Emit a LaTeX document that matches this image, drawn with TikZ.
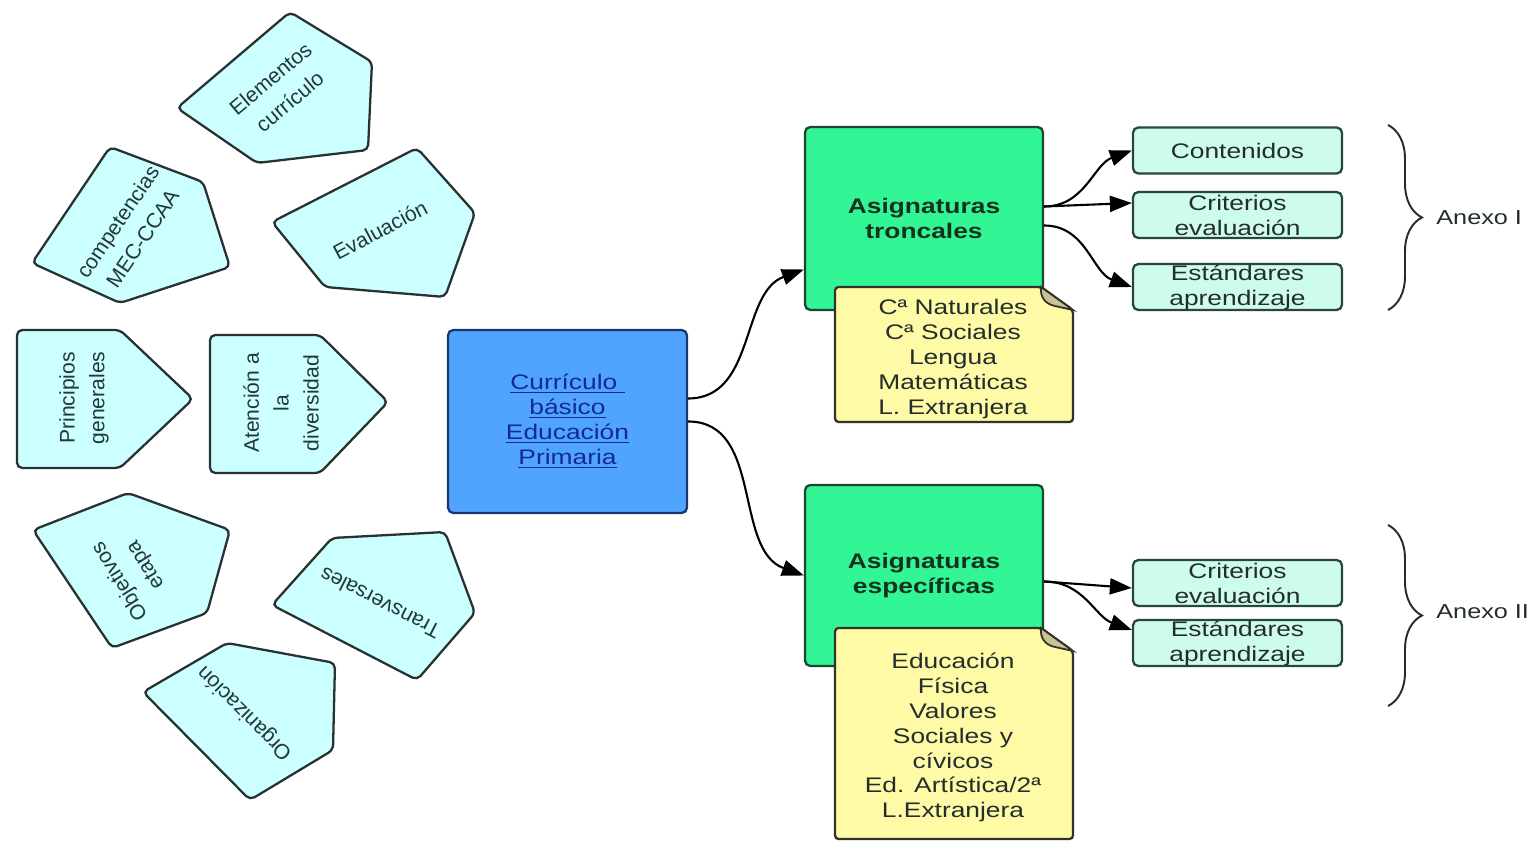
\documentclass[tikz,border=0pt]{standalone}
\usepackage{fontspec}
\setmainfont{Liberation Sans}[FakeStretch=1.25]
\newfontfamily\pentafont{Liberation Sans}
\usetikzlibrary{arrows.meta,calc,decorations.pathreplacing}

\definecolor{pentafill}{RGB}{204,255,255}
\definecolor{pentaline}{RGB}{40,50,50}
\definecolor{pentaink}{RGB}{35,55,55}
\definecolor{bluefill}{RGB}{80,164,255}
\definecolor{blueline}{RGB}{25,55,110}
\definecolor{blueink}{RGB}{20,40,150}
\definecolor{greenfill}{RGB}{50,245,150}
\definecolor{greenline}{RGB}{30,70,45}
\definecolor{greenink}{RGB}{20,50,30}
\definecolor{notefill}{RGB}{255,250,165}
\definecolor{noteline}{RGB}{50,50,40}
\definecolor{foldfill}{RGB}{200,195,150}
\definecolor{mintfill}{RGB}{205,252,235}
\definecolor{mintline}{RGB}{40,70,60}
\definecolor{inkdark}{RGB}{35,45,45}

\tikzstyle{penta}=[draw=pentaline, fill=pentafill, line width=1.3pt, rounded corners=3pt]
\tikzstyle{pentatext}=[align=center, text=pentaink, inner sep=0pt, font=\pentafont\fontsize{12}{17}\selectfont]
\tikzstyle{box}=[draw, rounded corners=3pt, line width=1.3pt, inner sep=0pt, align=center, font=\fontsize{12}{14.2}\selectfont]
\tikzstyle{green}=[box, draw=greenline, fill=greenfill, text=greenink, minimum width=4.76cm, font=\bfseries\fontsize{12}{14.2}\selectfont]
\tikzstyle{mint}=[box, draw=mintline, fill=mintfill, text=inkdark, minimum width=4.18cm, minimum height=0.92cm]
\tikzstyle{note}=[draw=noteline, fill=notefill, line width=1.3pt, rounded corners=2pt]
\tikzstyle{notetext}=[align=center, text=inkdark, inner sep=0pt, font=\fontsize{12}{14.2}\selectfont]
\tikzstyle{link}=[-{Triangle[length=4.4mm,width=3.2mm]}, line width=1.2pt]
\tikzstyle{anexo}=[decorate, decoration={brace, amplitude=0.68cm}, line width=1.1pt, draw=inkdark]
\tikzstyle{anexotext}=[anchor=west, inner sep=0pt, text=inkdark, font=\fontsize{11.5}{14}\selectfont]

\begin{document}
\begin{tikzpicture}[x=0.02cm, y=0.02cm]
\useasboundingbox (0,0) rectangle (1535,842);

% pentagons
\draw[penta] (177,734) -- (290,830) -- (372,780) -- (368,692) -- (257,679) -- cycle;
\node[pentatext, rotate=40] (elem) at (280,752) {Elementos\\currículo};
\draw[penta] (110,695) -- (203,660) -- (230,575) -- (120,539) -- (32,579) -- cycle;
\node[pentatext, rotate=56] (comp) at (130,612) {competencias\\MEC-CCAA};
\draw[penta] (272,620) -- (417,694) -- (475,629) -- (445,545) -- (325,555) -- cycle;
\node[pentatext, rotate=28] (eval) at (380,612) {Evaluación};
\draw[penta] (17,512) -- (120,512) -- (193,443) -- (120,374) -- (17,374) -- cycle;
\node[pentatext, rotate=90] (princ) at (84,444) {Principios\\generales};
\draw[penta] (210,507) -- (320,507) -- (388,440) -- (320,369) -- (210,369) -- cycle;
\node[pentatext, rotate=90] (aten) at (281,439) {Atención a\\la\\diversidad};
\draw[penta] (33,312) -- (128,349) -- (230,312) -- (207,229) -- (112,194) -- cycle;
\node[pentatext, rotate=122] (obj) at (133,269) {Objetivos\\etapa};
\draw[penta] (272,237) -- (332,304) -- (445,310) -- (475,229) -- (417,162) -- cycle;
\node[pentatext, rotate=153] (transv) at (380,239) {Transversales};
\draw[penta] (143,150) -- (227,199) -- (335,179) -- (333,92) -- (250,42) -- cycle;
\node[pentatext, rotate=135] (org) at (245,129) {Organización};

% main box
\node[box, draw=blueline, fill=bluefill, text=blueink, minimum width=4.78cm, minimum height=3.66cm] (cb) at (567.5,420.5)
  {\underline{Currículo\ }\\\underline{básico}\\\underline{Educación}\\\underline{Primaria}};

% subjects
\node[green, minimum height=3.66cm] (tr) at (924,623.5) {Asignaturas\\troncales};
\node[green, minimum height=3.62cm] (esp) at (924,266.5) {Asignaturas\\específicas};

% notes
\draw[note] (835,420) -- (835,555) -- (1041,555) -- (1073,532) -- (1073,420) -- cycle;
\fill[foldfill, draw=noteline, line width=1pt] (1041,555) .. controls (1040,545) and (1045,538) .. (1055,536) -- (1073,532) -- cycle;
\node[notetext] (nota1) at (953,483) {Cª Naturales\\Cª Sociales\\Lengua\\Matemáticas\\L. Extranjera};
\draw[note] (835,3) -- (835,214) -- (1041,214) -- (1073,191) -- (1073,3) -- cycle;
\fill[foldfill, draw=noteline, line width=1pt] (1041,214) .. controls (1040,204) and (1045,197) .. (1055,195) -- (1073,191) -- cycle;
\node[notetext] (nota2) at (953,104.5) {Educación\\Física\\Valores\\Sociales y\\cívicos\\Ed. Artística/2ª\\L.Extranjera};

% elements
\node[mint] (cont) at (1237.5,691.5) {Contenidos};
\node[mint] (crit1) at (1237.5,627) {Criterios\\evaluación};
\node[mint] (est1) at (1237.5,555) {Estándares\\aprendizaje};
\node[mint] (crit2) at (1237.5,259) {Criterios\\evaluación};
\node[mint] (est2) at (1237.5,199) {Estándares\\aprendizaje};

% links
\draw[link] ($(cb.east)+(0,23)$) to[out=0, in=200] ($(tr.west)+(0,-51)$);
\draw[link] (cb.east) to[out=0, in=160] (esp.west);
\draw[link] ($(tr.east)+(0,12)$) to[out=0, in=200] (cont.west);
\draw[link] ($(tr.east)+(0,12)$) -- ($(crit1.west)+(0,12)$);
\draw[link] ($(tr.east)+(0,-7)$) to[out=0, in=160] (est1.west);
\draw[link] ($(esp.east)+(0,-6)$) -- ($(crit2.west)+(0,-5)$);
\draw[link] ($(esp.east)+(0,-6)$) to[out=0, in=160] ($(est2.west)+(0,13)$);

% annexes
\draw[anexo] (1388,717) -- (1388,532);
\node[anexotext] (anx1) at (1436,624) {Anexo I};
\draw[anexo] (1388,317) -- (1388,136);
\node[anexotext] (anx2) at (1436,230) {Anexo II};
\end{tikzpicture}
\end{document}
